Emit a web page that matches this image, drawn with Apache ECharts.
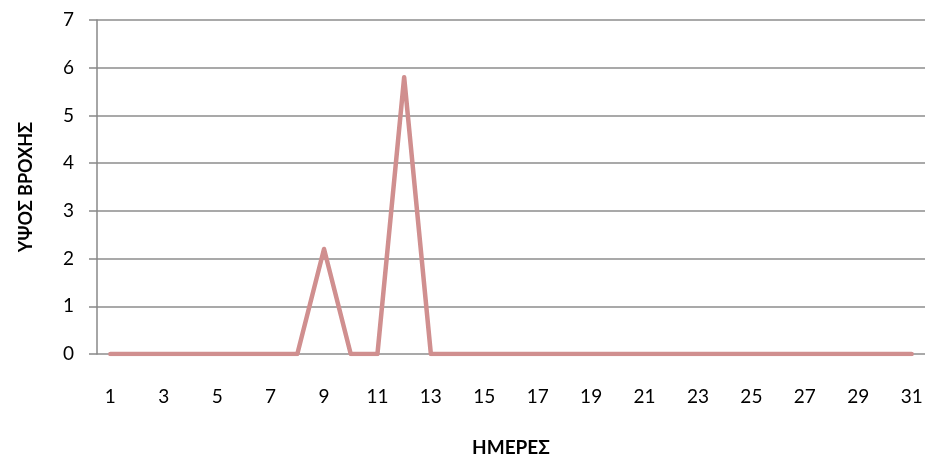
<!DOCTYPE html>
<html>
<head>
<meta charset="utf-8">
<script src="https://cdn.jsdelivr.net/npm/echarts@6/dist/echarts.min.js"></script>
<style>html,body{margin:0;padding:0;background:#fff}#c{width:930px;height:459px}</style>
</head>
<body>
<div id="c"></div>
<script>
var days = [];
for (var i = 1; i <= 31; i++) days.push(String(i));
var rain = [0,0,0,0,0,0,0,0,2.2,0,0,5.8,0,0,0,0,0,0,0,0,0,0,0,0,0,0,0,0,0,0,0];
var yTitle = 'ΥΨΟΣ ΒΡΟΧΗΣ';
var xTitle = 'ΗΜΕΡΕΣ';
var font = 'Lato, "Open Sans", sans-serif';
var chart = echarts.init(document.getElementById('c'));
chart.setOption({
  animation: false,
  grid: {left: 97, right: 5, top: 20, bottom: 105, containLabel: false, outerBoundsMode: 'none'},
  xAxis: {
    type: 'category', data: days, boundaryGap: true,
    axisLine: {show: false},
    axisTick: {show: false},
    axisLabel: {interval: 1, margin: 33, fontSize: 19, color: '#000', fontFamily: font},
    name: xTitle, nameLocation: 'middle', nameGap: 84,
    nameTextStyle: {fontSize: 19, fontWeight: 'bold', color: '#000', fontFamily: font}
  },
  yAxis: {
    type: 'value', min: 0, max: 7, interval: 1,
    axisLine: {show: true, lineStyle: {color: '#888', width: 1.5}},
    axisTick: {show: true, length: 8, lineStyle: {color: '#888', width: 1.5}},
    splitLine: {show: true, lineStyle: {color: '#8c8c8c', width: 1.5}},
    axisLabel: {margin: 23, fontSize: 19, color: '#000', fontFamily: font},
    name: yTitle, nameLocation: 'middle', nameGap: 62, nameRotate: 90,
    nameTextStyle: {fontSize: 18, fontWeight: 'bold', color: '#000', fontFamily: font}
  },
  series: [{
    type: 'line', data: rain, symbol: 'none',
    lineStyle: {color: '#d08f8f', width: 4.5, cap: 'round', join: 'round'}
  }]
});
</script>
</body>
</html>
